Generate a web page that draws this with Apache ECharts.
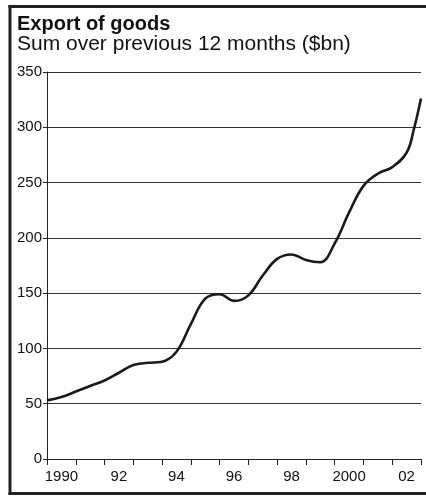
<!DOCTYPE html>
<html>
<head>
<meta charset="utf-8">
<script src="https://cdn.jsdelivr.net/npm/echarts@6/dist/echarts.min.js"></script>
<style>
html,body{margin:0;padding:0;background:#fff;}
#main{width:426px;height:497px;}
</style>
</head>
<body>
<div id="main"></div>
<script>
var titleText = 'Export of goods';
var subtitleText = 'Sum over previous 12 months ($bn)';
var yearCategories = ['1990','91','92','93','94','95','96','97','98','99','2000','01','02'];
var shownLabels = ['1990','92','94','96','98','2000','02'];
var years = [1990.0,1990.5,1991.0,1991.5,1992.0,1992.5,1993.0,1993.5,1994.0,1994.5,1995.0,1995.5,1996.0,1996.5,1997.0,1997.5,1998.0,1998.5,1999.0,1999.5,2000.0,2000.5,2001.0,2001.5,2002.0,2002.5,2002.75,2003.0];
var exports = [53,56,61,66,71,78,85,87,88,97,122,145,149,143,148,166,181,185,180,178,195,223,247,258,264,277,298,326];
var yTicks = [0,50,100,150,200,250,300,350];

var FONT = '"Liberation Sans", Arial, Helvetica, sans-serif';
var chart = echarts.init(document.getElementById('main'), null, {renderer:'canvas'});
var lineData = years.map(function(y,i){return [y, exports[i]];});

chart.setOption({
  animation:false,
  backgroundColor:'#fff',
  title:{
    text:titleText, subtext:subtitleText, left:12, top:9, itemGap:0,
    textStyle:{fontFamily:FONT, fontSize:20, fontWeight:'bold', color:'#111', lineHeight:20},
    subtextStyle:{fontFamily:FONT, fontSize:21, color:'#111', lineHeight:20}
  },
  grid:{left:47, right:5, top:72, bottom:38, containLabel:false},
  xAxis:[{
    type:'category', data:yearCategories, boundaryGap:true,
    axisLine:{show:true, lineStyle:{color:'#222', width:1}},
    axisTick:{show:true, length:6, inside:false, alignWithLabel:false, lineStyle:{color:'#222', width:1}},
    axisLabel:{interval:0, margin:10, fontFamily:FONT, fontSize:15, color:'#111',
      formatter:function(v){return shownLabels.indexOf(v)>=0 ? v : '';}},
    splitLine:{show:false}
  },{
    type:'value', min:1990, max:2003, show:false
  }],
  yAxis:{
    type:'value', min:0, max:350, interval:50,
    axisLine:{show:true, lineStyle:{color:'#222', width:1}},
    axisTick:{show:true, length:4, lineStyle:{color:'#222', width:1}},
    axisLabel:{margin:5, fontFamily:FONT, fontSize:15, color:'#111'},
    splitLine:{show:true, lineStyle:{color:'#333', width:1}}
  },
  series:[{
    type:'line', xAxisIndex:1, data:lineData, smooth:0.4, symbol:'none',
    lineStyle:{color:'#1a1a1a', width:2.6}
  }],
  graphic:[
    {type:'line', shape:{x1:10, y1:5, x2:10, y2:495}, style:{stroke:'#222', lineWidth:3}},
    {type:'line', shape:{x1:8.5, y1:6.5, x2:426, y2:6.5}, style:{stroke:'#222', lineWidth:3}},
    {type:'line', shape:{x1:8.5, y1:493.5, x2:426, y2:493.5}, style:{stroke:'#222', lineWidth:3}}
  ]
});
</script>
</body>
</html>
